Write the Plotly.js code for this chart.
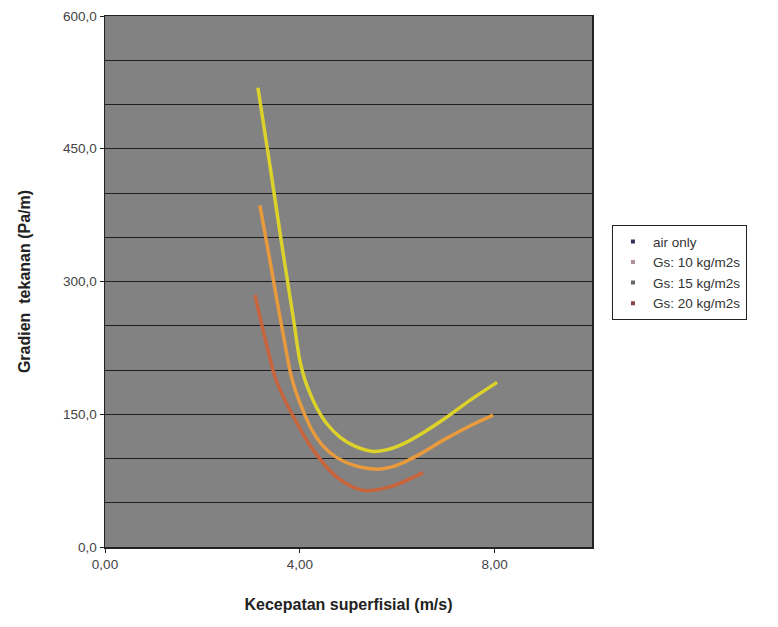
<!DOCTYPE html>
<html>
<head>
<meta charset="utf-8">
<script src="https://cdn.plot.ly/plotly-3.0.1.min.js"></script>
<style>
  html, body { margin: 0; padding: 0; background: #ffffff; }
  #chart { width: 778px; height: 627px; }
</style>
</head>
<body>
<div id="chart"></div>
<script>
// Series
const gs20X = [3.14, 3.39, 3.63, 3.88, 4.00, 4.11, 4.23, 4.37, 4.56, 4.83, 5.13, 5.50, 5.80, 6.10, 6.50, 7.00, 7.50, 8.05];
const gs20Y = [519, 430, 342, 254, 211, 188, 171, 155, 139, 124, 114, 108, 110, 116, 128, 146, 166, 186];

const gs15X = [3.18, 3.35, 3.53, 3.70, 3.82, 3.94, 4.09, 4.25, 4.48, 4.76, 5.13, 5.54, 5.85, 6.15, 6.50, 7.02, 7.50, 7.97];
const gs15Y = [386, 335, 279, 228, 194, 172, 151, 132, 114, 101, 92, 88, 90, 96, 106, 123, 137, 149];

const gs10X = [3.08, 3.22, 3.37, 3.51, 3.72, 3.94, 4.27, 4.76, 5.30, 5.85, 6.53];
const gs10Y = [285, 251, 217, 189, 163, 140, 110, 79, 64, 68, 84];

const legendNames = ["air only", "Gs: 10 kg/m2s", "Gs: 15 kg/m2s", "Gs: 20 kg/m2s"];

const yTickVals = [0, 150, 300, 450, 600];
const yTickText = ["0,0", "150,0", "300,0", "450,0", "600,0"];
const yGridVals = [50, 100, 200, 250, 350, 400, 500, 550];
const xTickVals = [0, 4, 8];
const xTickText = ["0,00", "4,00", "8,00"];

const curveColors = { gs10: "#c8643c", gs15: "#e89a3c", gs20: "#dcd22a" };
const legendColors = ["#333355", "#b0909a", "#666666", "#884444"];

const traces = [
  { x: gs10X, y: gs10Y, mode: "lines", line: { color: curveColors.gs10, width: 3.5, shape: "spline", smoothing: 1.0 }, showlegend: false, hoverinfo: "skip" },
  { x: gs15X, y: gs15Y, mode: "lines", line: { color: curveColors.gs15, width: 3.5, shape: "spline", smoothing: 1.0 }, showlegend: false, hoverinfo: "skip" },
  { x: gs20X, y: gs20Y, mode: "lines", line: { color: curveColors.gs20, width: 3.5, shape: "spline", smoothing: 1.0 }, showlegend: false, hoverinfo: "skip" }
];
legendNames.forEach((n, i) => {
  traces.push({ x: [null], y: [null], mode: "markers", name: n,
    marker: { symbol: "square", size: 4, color: legendColors[i] }, showlegend: true });
});

const titleFont = { size: 16, color: "#222", family: "Liberation Sans, Arial, sans-serif" };

const layout = {
  width: 778, height: 627,
  margin: { l: 105, r: 186, t: 16, b: 80 },
  paper_bgcolor: "#ffffff",
  plot_bgcolor: "#828282",
  font: { family: "Liberation Sans, Arial, sans-serif", color: "#222" },
  xaxis: {
    range: [0, 10], tickvals: xTickVals, ticktext: xTickText,
    showgrid: false, zeroline: false,
    showline: true, linecolor: "#222", linewidth: 1.5, mirror: true,
    ticks: "outside", ticklen: 4, tickcolor: "#222",
    tickfont: { size: 13.5, color: "#444" },
    title: { text: "<b>Kecepatan superfisial (m/s)</b>", font: titleFont, standoff: 28 }
  },
  yaxis: {
    range: [0, 600], tickvals: yTickVals, ticktext: yTickText,
    showgrid: true, gridcolor: "#1e1e1e", gridwidth: 1,
    zeroline: false,
    showline: true, linecolor: "#222", linewidth: 1.5, mirror: true,
    ticks: "outside", ticklen: 4, tickcolor: "#222",
    tickfont: { size: 13.5, color: "#444" },
    title: { text: "<b>Gradien  tekanan (Pa/m)</b>", font: titleFont, standoff: 28 },
    minor: { tickvals: yGridVals, ticks: "", showgrid: true, gridcolor: "#1e1e1e", gridwidth: 1 }
  },
  legend: {
    x: 1.041, y: 0.606, xanchor: "left", yanchor: "top",
    bgcolor: "#ffffff", bordercolor: "#222", borderwidth: 1,
    font: { size: 13.5, color: "#333" },
    itemwidth: 30
  }
};

Plotly.newPlot("chart", traces, layout, { displayModeBar: false, staticPlot: true });
</script>
</body>
</html>
